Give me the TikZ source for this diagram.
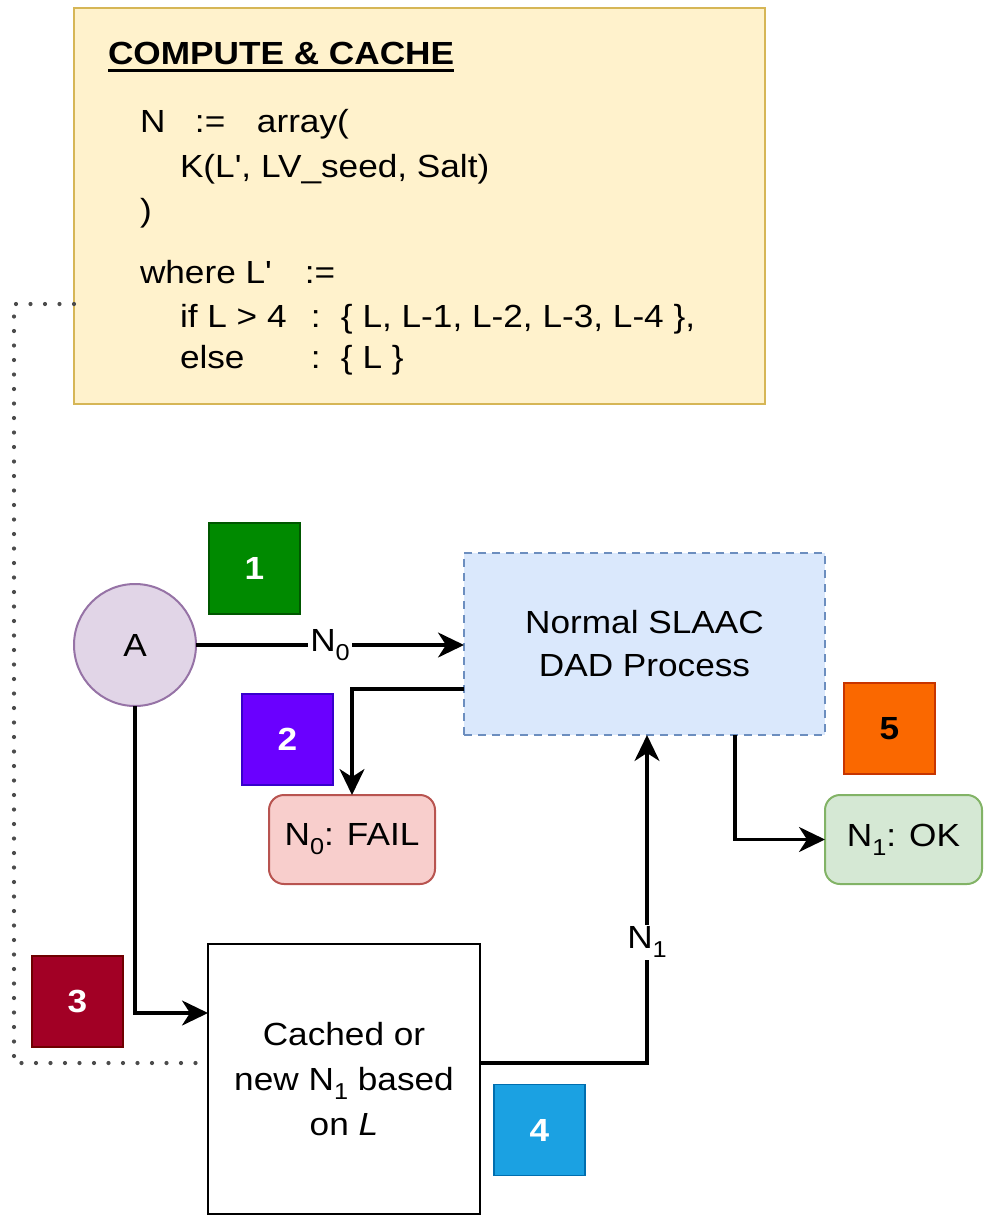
\documentclass[tikz,border=0pt]{standalone}
\usepackage{fontspec}
\setmainfont{Liberation Sans}[FakeStretch=1.1,Ligatures=TeXOff]
\usetikzlibrary{arrows.meta}

\definecolor{noteFill}{HTML}{FFF2CC}
\definecolor{noteLine}{HTML}{D6B656}
\definecolor{procFill}{HTML}{DAE8FC}
\definecolor{procLine}{HTML}{6C8EBF}
\definecolor{actFill}{HTML}{E1D5E7}
\definecolor{actLine}{HTML}{9673A6}
\definecolor{failFill}{HTML}{F8CECC}
\definecolor{failLine}{HTML}{B85450}
\definecolor{okFill}{HTML}{D5E8D4}
\definecolor{okLine}{HTML}{82B366}
\definecolor{bGreen}{HTML}{008A00}
\definecolor{bGreenLine}{HTML}{005700}
\definecolor{bViolet}{HTML}{6A00FF}
\definecolor{bVioletLine}{HTML}{3700CC}
\definecolor{bCrimson}{HTML}{A20025}
\definecolor{bCrimsonLine}{HTML}{6F0000}
\definecolor{bCyan}{HTML}{1BA1E2}
\definecolor{bCyanLine}{HTML}{006EAF}
\definecolor{bOrange}{HTML}{FA6800}
\definecolor{bOrangeLine}{HTML}{C73500}

\newcommand\lowidx[1]{\raisebox{-0.28em}{\fontsize{23}{23}\selectfont #1}}
\newcommand\bodysize{\fontsize{32}{43}\selectfont}

\tikzset{
  box/.style={rectangle, inner sep=0pt, outer sep=0pt, line width=2pt, align=center, font=\bodysize},
  badge/.style={rectangle, draw, line width=1.5pt, minimum width=91pt, minimum height=91pt,
                inner sep=0pt, outer sep=0pt, text=white, font=\bfseries\fontsize{32}{32}\selectfont},
  codeline/.style={anchor=base west, inner sep=0pt, outer sep=0pt, font=\bodysize},
  arr/.style={line width=3.2pt, -{Stealth[length=26pt, width=25pt, inset=8pt]}},
  lbl/.style={fill=white, inner sep=2pt, font=\bodysize},
  dots/.style={line width=4.2pt, line cap=round, dash pattern=on 0pt off 14.5pt, black!70}
}

\begin{document}
\begin{tikzpicture}[x=1pt, y=-1pt]
\useasboundingbox (0,0) rectangle (984,1216);

% note with the caching rule
\node[box, draw=noteLine, fill=noteFill, minimum width=691pt, minimum height=396pt] (note) at (419.5,206) {};
\node[codeline, font=\bfseries\bodysize] (title) at (108,64) {COMPUTE \& CACHE};
\draw[line width=3pt] ([yshift=-6pt]title.base west) -- ([yshift=-6pt]title.base east);
\node[codeline] (c1) at (140,132) {\makebox[55pt][l]{N}\makebox[62pt][l]{:=}array(};
\node[codeline] (c2) at (180,177) {K(L', LV\_seed, Salt)};
\node[codeline] (c3) at (140,221) {)};
\node[codeline] (c4) at (140,283) {\makebox[165pt][l]{where L'}:=};
\node[codeline] (c5) at (180,327) {\makebox[131pt][l]{if L > 4}\makebox[30pt][l]{:}\{ L, L-1, L-2, L-3, L-4 \},};
\node[codeline] (c6) at (180,368) {\makebox[131pt][l]{else}\makebox[30pt][l]{:}\{ L \}};

% main flow
\node[circle, draw=actLine, fill=actFill, line width=2pt, minimum size=122pt, inner sep=0pt, outer sep=0pt,
      font=\bodysize] (A) at (135,645) {A};
\node[box, draw=procLine, fill=procFill, dashed, dash pattern=on 8pt off 6pt,
      minimum width=361pt, minimum height=182pt] (dad) at (644.5,644) {Normal SLAAC\\DAD Process};
\node[box, draw=failLine, fill=failFill, rounded corners=15pt,
      minimum width=166pt, minimum height=89pt] (fail) at (352,839.5) {N\lowidx{0}: FAIL};
\node[box, draw=okLine, fill=okFill, rounded corners=15pt,
      minimum width=157pt, minimum height=89pt] (ok) at (903.5,839.5) {N\lowidx{1}: OK};
\node[box, draw=black, fill=white, line width=2.8pt, font=\fontsize{32}{45}\selectfont,
      minimum width=272pt, minimum height=270pt] (cache) at (344,1079)
      {Cached or\\new N\lowidx{1} based\\on \textit{L}};

% step badges
\node[badge, fill=bGreen, draw=bGreenLine] (s1) at (254.5,568.5) {1};
\node[badge, fill=bViolet, draw=bVioletLine] (s2) at (287.5,739.5) {2};
\node[badge, fill=bCrimson, draw=bCrimsonLine] (s3) at (77.5,1001.5) {3};
\node[badge, fill=bCyan, draw=bCyanLine] (s4) at (539.5,1130) {4};
\node[badge, fill=bOrange, draw=bOrangeLine, text=black] (s5) at (889.5,728.5) {5};

% connectors
\draw[arr] (A.east) -- (A.east -| dad.west) node[midway, lbl] {N\lowidx{0}};
\draw[arr] ([yshift=-45pt]dad.west) -| (fail.north);
\draw[arr] ([xshift=90.5pt]dad.south) |- (ok.west);
\draw[arr] (A.south) |- ([yshift=66pt]cache.west);
\draw[arr] ([yshift=16pt]cache.east) -| ([xshift=2.5pt]dad.south)
  node[pos=0.684, lbl] {N\lowidx{1}};

% dotted link from the note to the cache step
\coordinate (bendTop) at (14,304);
\coordinate (bendBot) at (14,1063);
\draw[dots] ([yshift=-98pt]note.west) -- (bendTop) -- (bendBot) -- ([yshift=16pt]cache.west);
\end{tikzpicture}
\end{document}
